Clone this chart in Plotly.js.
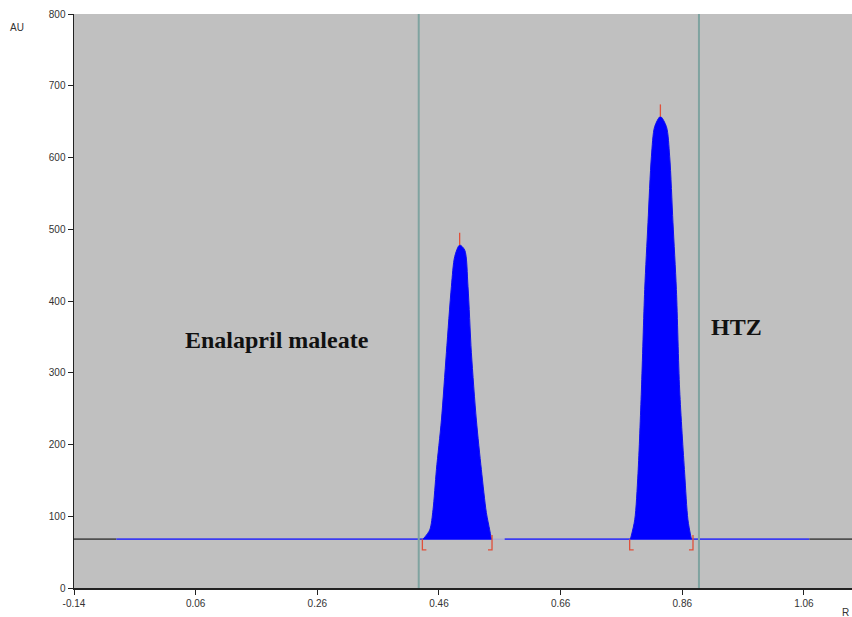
<!DOCTYPE html>
<html>
<head>
<meta charset="utf-8">
<script src="https://cdn.plot.ly/plotly-3.0.1.min.js"></script>
<style>html,body{margin:0;padding:0;background:#fff;}#chart{width:852px;height:617px;}</style>
</head>
<body>
<div id="chart"></div>
<script>
// ---- data ----
const baselineLevel = 68;
const xTickVals = [-0.14, 0.06, 0.26, 0.46, 0.66, 0.86, 1.06];
const xTickText = ["-0.14", "0.06", "0.26", "0.46", "0.66", "0.86", "1.06"];
const yTickVals = [0, 100, 200, 300, 400, 500, 600, 700, 800];

const peak1X = [0.4337,0.4448,0.4502,0.4558,0.4640,0.4722,0.4804,0.4859,0.4940,0.5023,0.5077,0.5133,0.5215,0.5297,0.5379,0.5434,0.5462];
const peak1Y = [68,81,109,165,234,328,420,462,478,471,420,328,234,165,105,81,68];
const peak2X = [0.7747,0.7818,0.7872,0.7928,0.7982,0.8036,0.8092,0.8146,0.8240,0.8339,0.8393,0.8447,0.8503,0.8557,0.8639,0.8693,0.8750];
const peak2Y = [68,95,160,276,416,509,601,643,657,643,601,509,416,276,160,95,68];

const peakStarts = [0.4327, 0.7735];
const peakEnds = [0.5472, 0.8776];
const apexX = [0.494, 0.824];
const apexY = [478, 657];

const regionLines = [0.4267, 0.8874];
const traceStart = -0.0703, traceEnd = 1.069, gapEnd = 0.568;
const xMin = -0.14, xMax = 1.139;

const labels = ["Enalapril maleate", "HTZ"];
const labelX = [0.193, 0.949];
const labelY = [346, 364];

// ---- traces ----
const traces = [];
traces.push({x:[xMin, traceStart], y:[baselineLevel, baselineLevel], mode:'lines', line:{color:'#505050', width:1.8}, hoverinfo:'skip'});
traces.push({x:[traceStart, peakEnds[0]], y:[baselineLevel, baselineLevel], mode:'lines', line:{color:'#3c3cf0', width:1.8}, hoverinfo:'skip'});
traces.push({x:[peakEnds[0], gapEnd], y:[baselineLevel, baselineLevel], mode:'lines', line:{color:'#a8a8d8', width:1.2}, hoverinfo:'skip'});
traces.push({x:[gapEnd, traceEnd], y:[baselineLevel, baselineLevel], mode:'lines', line:{color:'#3c3cf0', width:1.8}, hoverinfo:'skip'});
traces.push({x:[traceEnd, xMax], y:[baselineLevel, baselineLevel], mode:'lines', line:{color:'#505050', width:1.8}, hoverinfo:'skip'});

[[peak1X, peak1Y], [peak2X, peak2Y]].forEach(p => {
  traces.push({x:p[0], y:p[1], mode:'lines', fill:'toself', fillcolor:'#0000ff', line:{color:'#1010f0', width:1, shape:'spline', smoothing:0.8}, hoverinfo:'skip'});
});

const mx = [], my = [];
const drop = 15, foot = 0.0066, tick = 17;
for (let i = 0; i < peakStarts.length; i++) {
  mx.push(peakStarts[i], peakStarts[i], peakStarts[i] + foot, null);
  my.push(baselineLevel, baselineLevel - drop, baselineLevel - drop, null);
  mx.push(peakEnds[i], peakEnds[i], peakEnds[i] - foot, null);
  my.push(baselineLevel + 6, baselineLevel - drop, baselineLevel - drop, null);
  mx.push(apexX[i], apexX[i], null);
  my.push(apexY[i], apexY[i] + tick, null);
}
traces.push({x:mx, y:my, mode:'lines', line:{color:'#e0503a', width:1.3}, hoverinfo:'skip', connectgaps:false});

const shapes = regionLines.map(v => ({type:'line', xref:'x', yref:'paper', x0:v, x1:v, y0:0, y1:1, line:{color:'#7fa3a0', width:2}}));

const annotations = labels.map((t, i) => ({
  x: labelX[i], y: labelY[i], xref:'x', yref:'y', text:'<b>' + t + '</b>', showarrow:false,
  font:{family:'Liberation Serif, Times New Roman, serif', size:24, color:'#111'},
  xanchor:'center', yanchor:'middle'
}));
annotations.push({xref:'paper', yref:'paper', x:-0.0733, y:0.977, text:'AU', showarrow:false, xanchor:'center', yanchor:'middle', font:{family:'Liberation Sans, Arial, sans-serif', size:10, color:'#333'}});
annotations.push({xref:'paper', yref:'paper', x:0.992, y:-0.042, text:'R', showarrow:false, xanchor:'center', yanchor:'middle', font:{family:'Liberation Sans, Arial, sans-serif', size:10, color:'#333'}});

const layout = {
  width: 852, height: 617,
  margin: {l:74, r:0, t:14, b:29, pad:0},
  paper_bgcolor: '#ffffff',
  plot_bgcolor: '#c0c0c0',
  showlegend: false,
  font: {family:'Liberation Sans, Arial, sans-serif', size:10, color:'#333'},
  xaxis: {
    range: [xMin, xMax], tickvals: xTickVals, ticktext: xTickText,
    showgrid:false, zeroline:false, showline:true, linecolor:'#222', linewidth:1.5,
    ticks:'outside', ticklen:5, tickcolor:'#222', tickwidth:1,
    tickfont:{size:10, color:'#333'}
  },
  yaxis: {
    range: [0, 800], tickvals: yTickVals,
    showgrid:false, zeroline:false, showline:true, linecolor:'#222', linewidth:1.5,
    ticks:'outside', ticklen:5, tickcolor:'#222', tickwidth:1,
    tickfont:{size:10, color:'#333'}
  },
  shapes: shapes,
  annotations: annotations
};

Plotly.newPlot('chart', traces, layout, {displayModeBar:false, staticPlot:true});
</script>
</body>
</html>
